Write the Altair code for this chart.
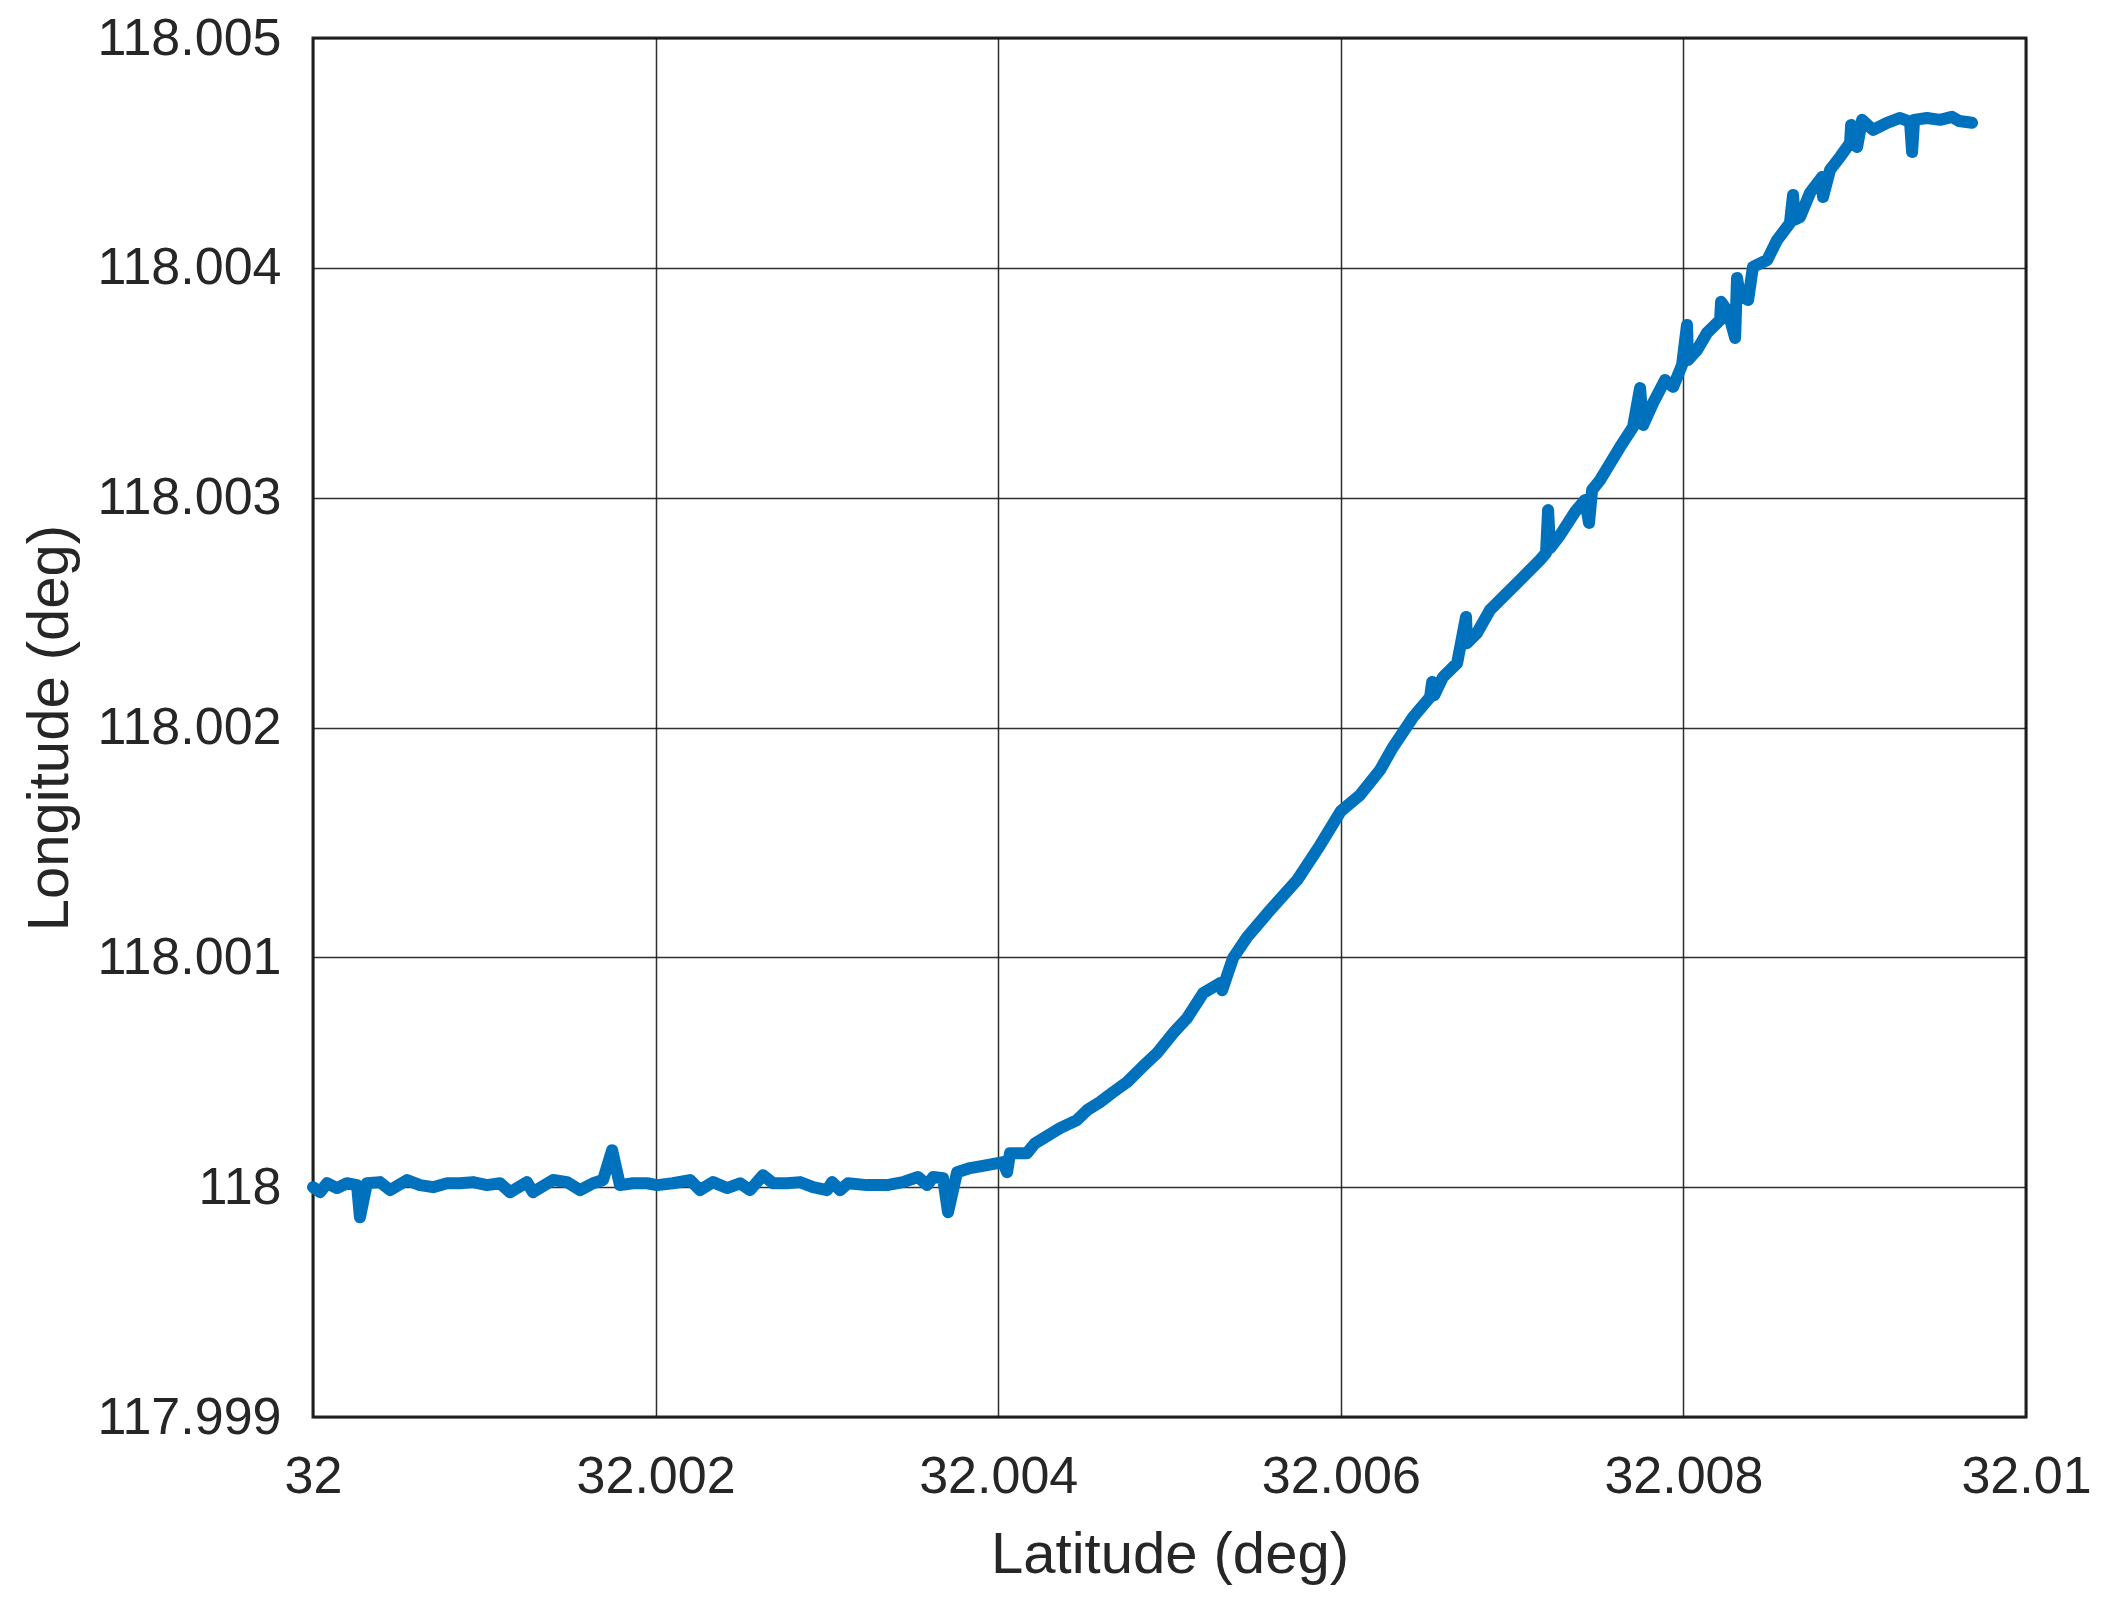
import altair as alt
import pandas as pd

# Latitude (deg) / Longitude (deg)
lat = [
    32.000000, 32.000041, 32.000082, 32.000140, 32.000198, 32.000257, 32.000274, 32.000315,
    32.000391, 32.000450, 32.000549, 32.000625, 32.000701, 32.000782, 32.000858, 32.000934,
    32.001016, 32.001092, 32.001150, 32.001249, 32.001284, 32.001401, 32.001483, 32.001559,
    32.001635, 32.001693, 32.001746, 32.001792, 32.001868, 32.001950, 32.002008, 32.002102,
    32.002201, 32.002259, 32.002335, 32.002417, 32.002493, 32.002551, 32.002627, 32.002685,
    32.002767, 32.002843, 32.002919, 32.003001, 32.003030, 32.003077, 32.003123, 32.003234,
    32.003351, 32.003444, 32.003532, 32.003585, 32.003620, 32.003678, 32.003707, 32.003760,
    32.003836, 32.003935,
    32.004028, 32.004052, 32.004069, 32.004168, 32.004215, 32.004361, 32.004460, 32.004519,
    32.004594, 32.004670, 32.004752, 32.004840, 32.004927, 32.005021, 32.005102, 32.005196,
    32.005295, 32.005307, 32.005371, 32.005453, 32.005587, 32.005745, 32.005879, 32.006000,
    32.006112, 32.006229, 32.006305, 32.006422, 32.006521, 32.006533, 32.006545, 32.006597,
    32.006679, 32.006731, 32.006737, 32.006795, 32.006871, 32.006947, 32.007047, 32.007163,
    32.007198, 32.007210, 32.007222, 32.007280, 32.007367, 32.007426, 32.007449, 32.007467,
    32.007514, 32.007630, 32.007706, 32.007747, 32.007765, 32.007823, 32.007893, 32.007940,
    32.007992, 32.008021, 32.008027, 32.008080, 32.008138, 32.008214, 32.008220, 32.008261,
    32.008302, 32.008313, 32.008330, 32.008378, 32.008406, 32.008489, 32.008547, 32.008622,
    32.008640, 32.008650, 32.008681, 32.008739, 32.008809, 32.008815, 32.008856, 32.008915,
    32.008973, 32.008979, 32.009014, 32.009043, 32.009107, 32.009189, 32.009265, 32.009323,
    32.009335, 32.009347, 32.009422, 32.009498, 32.009568, 32.009609, 32.009685,
]
lon = [
    118.000000, 117.999978, 118.000017, 117.999996, 118.000017, 118.000009, 117.999869, 118.000017,
    118.000022, 117.999987, 118.000031, 118.000009, 118.000000, 118.000017, 118.000017, 118.000022,
    118.000009, 118.000017, 117.999978, 118.000022, 117.999978, 118.000031, 118.000022, 117.999987,
    118.000017, 118.000031, 118.000161, 118.000009, 118.000017, 118.000017, 118.000009, 118.000017,
    118.000031, 117.999987, 118.000022, 117.999996, 118.000017, 117.999987, 118.000052, 118.000017,
    118.000017, 118.000022, 118.000000, 117.999987, 118.000022, 117.999987, 118.000017, 118.000009,
    118.000009, 118.000022, 118.000044, 118.000009, 118.000044, 118.000039, 117.999891, 118.000065,
    118.000083, 118.000096,
    118.000109, 118.000065, 118.000148, 118.000148, 118.000191, 118.000257, 118.000292, 118.000335,
    118.000370, 118.000413, 118.000457, 118.000522, 118.000583, 118.000670, 118.000735, 118.000844,
    118.000888, 118.000857, 118.000997, 118.001088, 118.001205, 118.001336, 118.001488, 118.001636,
    118.001706, 118.001815, 118.001915, 118.002045, 118.002132, 118.002198, 118.002140, 118.002220,
    118.002280, 118.002481, 118.002367, 118.002411, 118.002511, 118.002568, 118.002642, 118.002729,
    118.002759, 118.002946, 118.002781, 118.002837, 118.002938, 118.002990, 118.002890, 118.003033,
    118.003077, 118.003220, 118.003308, 118.003477, 118.003316, 118.003412, 118.003512, 118.003482,
    118.003577, 118.003751, 118.003599, 118.003643, 118.003717, 118.003773, 118.003852, 118.003808,
    118.003695, 118.003956, 118.003880, 118.003860, 118.004004, 118.004034, 118.004121, 118.004195,
    118.004317, 118.004210, 118.004221, 118.004326, 118.004395, 118.004308, 118.004426, 118.004483,
    118.004543, 118.004622, 118.004526, 118.004644, 118.004600, 118.004631, 118.004652, 118.004635,
    118.004504, 118.004644, 118.004652, 118.004644, 118.004657, 118.004639, 118.004631,
]

x_ticks = [32.0, 32.002, 32.004, 32.006, 32.008, 32.01]
y_ticks = [117.999, 118.0, 118.001, 118.002, 118.003, 118.004, 118.005]

df = pd.DataFrame({"lat": lat, "lon": lon, "i": list(range(len(lat)))})

FONT = "Liberation Sans"
TXT = "#262626"

chart = (
    alt.Chart(df)
    .mark_line(color="#0072BD", strokeWidth=12, strokeCap="round", strokeJoin="round")
    .encode(
        x=alt.X(
            "lat:Q",
            scale=alt.Scale(domain=[32.0, 32.01], nice=False, zero=False),
            axis=alt.Axis(
                values=x_ticks,
                format=".6~g",
                title="Latitude (deg)",
                labelFlush=False,
                labelOverlap=False,
                labelBound=False,
                labelBaseline="alphabetic",
                labelPadding=75,
                titleBaseline="alphabetic",
                titleY=155,
            ),
        ),
        y=alt.Y(
            "lon:Q",
            scale=alt.Scale(domain=[117.999, 118.005], nice=False, zero=False),
            axis=alt.Axis(
                values=y_ticks,
                format=".6~g",
                title="Longitude (deg)",
                labelOverlap=False,
                labelBaseline="middle",
                labelPadding=32,
                titleAngle=270,
                titleBaseline="alphabetic",
                titleX=-246,
            ),
        ),
        order="i:Q",
    )
    .properties(
        width=1713,
        height=1379,
        padding={"left": 305, "top": 30, "right": 68, "bottom": 170},
        autosize=alt.AutoSizeParams(type="none"),
    )
    .configure(background="white")
    .configure_axis(
        labelFont=FONT,
        labelFontSize=52,
        labelColor=TXT,
        labelLimit=0,
        titleFont=FONT,
        titleFontSize=58,
        titleFontWeight="normal",
        titleColor=TXT,
        titleLimit=0,
        ticks=False,
        tickSize=0,
        domain=False,
        grid=True,
        gridColor="#1a1a1a",
        gridWidth=1.5,
        gridOpacity=0.9,
    )
    .configure_view(stroke="#262626", strokeWidth=3, fill="white")
)

chart.save("out.html", embed_options={"renderer": "svg", "actions": False})
